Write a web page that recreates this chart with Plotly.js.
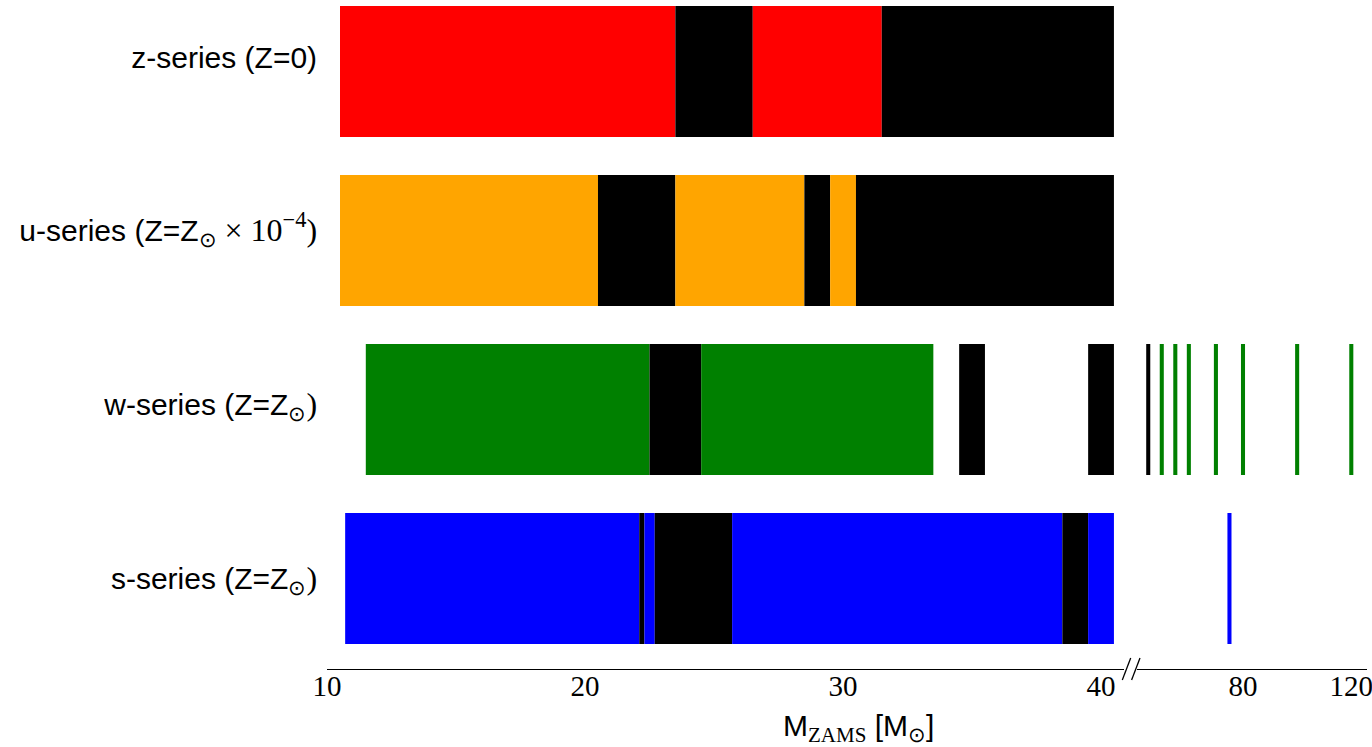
<!DOCTYPE html>
<html>
<head>
<meta charset="utf-8">
<script src="https://cdn.plot.ly/plotly-3.0.1.min.js"></script>
<style>
  html, body { margin: 0; padding: 0; background: #ffffff; }
  #chart { width: 1372px; height: 747px; }
</style>
</head>
<body>
<div id="chart"></div>
<script>
// Row labels, top to bottom (z, u, w, s)
const SERIF = 'font-family:Liberation Serif';
const SERIF_BIG = 'font-family:Liberation Serif;font-size:32px';
const seriesLabels = [
  'z-series (Z=0)',
  'u-series (Z=Z<sub><span style="' + SERIF + '">⊙</span></sub><span style="' + SERIF_BIG + '"> × 10<sup>−4</sup>)</span>',
  'w-series (Z=Z<sub><span style="' + SERIF + '">⊙</span></sub><span style="' + SERIF_BIG + '">)</span>',
  's-series (Z=Z<sub><span style="' + SERIF + '">⊙</span></sub><span style="' + SERIF_BIG + '">)</span>'
];
const seriesRows = [3, 2, 1, 0];
const seriesColors = ['#ff0000', '#ffa500', '#008000', '#0000ff'];
const failColor = '#000000';

// Runs of consecutive models with the same outcome (ZAMS mass, Msun); 1 = explosion, 0 = black hole
const zStart = [10.5, 23.5, 26.5, 31.5];
const zEnd   = [23.5, 26.5, 31.5, 40.5];
const zExpl  = [1, 0, 1, 0];

const uStart = [10.5, 20.5, 23.5, 28.5, 29.5, 30.5];
const uEnd   = [20.5, 23.5, 28.5, 29.5, 30.5, 40.5];
const uExpl  = [1, 0, 1, 0, 1, 0];

const wStart = [11.5, 22.5, 24.5, 34.5, 39.5];
const wEnd   = [22.5, 24.5, 33.5, 35.5, 40.5];
const wExpl  = [1, 0, 1, 0, 0];

const sStart = [10.7, 22.1, 22.3, 22.7, 25.7, 38.5, 39.5];
const sEnd   = [22.1, 22.3, 22.7, 25.7, 38.5, 39.5, 40.5];
const sExpl  = [1, 0, 1, 0, 1, 0, 1];

// Single high-mass models beyond the axis break
const zHighMass = [];
const zHighExpl = [];
const uHighMass = [];
const uHighExpl = [];
const wHighMass = [45, 50, 55, 60, 70, 80, 100, 120];
const wHighExpl = [0, 1, 1, 1, 1, 1, 1, 1];
const sHighMass = [75];
const sHighExpl = [1];

// Axis ticks
const lowTicks = [10, 20, 30, 40];
const highTicks = [80, 120];

const runs = [
  { start: zStart, end: zEnd, expl: zExpl, hi: zHighMass, hiExpl: zHighExpl },
  { start: uStart, end: uEnd, expl: uExpl, hi: uHighMass, hiExpl: uHighExpl },
  { start: wStart, end: wEnd, expl: wExpl, hi: wHighMass, hiExpl: wHighExpl },
  { start: sStart, end: sEnd, expl: sExpl, hi: sHighMass, hiExpl: sHighExpl }
];

const BAR_H = 0.775;     // bar thickness in row units
const HI_W = 1.5;        // drawn width of an isolated high-mass model
// labels sit slightly above their bars, more so towards the top
const LABEL_LIFT = [0.08, 0.06, 0.03, 0.0];

const traces = [];
runs.forEach((r, i) => {
  const row = seriesRows[i];
  const col = seriesColors[i];
  traces.push({
    type: 'bar', orientation: 'h',
    y: r.start.map(() => row),
    base: r.start,
    x: r.start.map((s, k) => r.end[k] - s),
    width: BAR_H,
    marker: { color: r.expl.map(e => e ? col : failColor), line: { width: 0 } },
    xaxis: 'x', yaxis: 'y',
    hoverinfo: 'skip', showlegend: false
  });
  if (r.hi.length) {
    traces.push({
      type: 'bar', orientation: 'h',
      y: r.hi.map(() => row),
      base: r.hi.map(m => m - HI_W / 2),
      x: r.hi.map(() => HI_W),
      width: BAR_H,
      marker: { color: r.hiExpl.map(e => e ? col : failColor), line: { width: 0 } },
      xaxis: 'x2', yaxis: 'y',
      hoverinfo: 'skip', showlegend: false
    });
  }
});

const W = 1372;
const tickFont = { family: 'Liberation Serif', size: 29, color: '#000' };
const breakLine = { color: '#000', width: 1.3 };

const layout = {
  width: 1372, height: 747,
  margin: { l: 0, r: 0, t: 0, b: 78, pad: 0 },
  paper_bgcolor: '#fff', plot_bgcolor: '#fff',
  barmode: 'overlay',
  showlegend: false,
  xaxis: {
    domain: [327.1 / W, 1124 / W],
    range: [10, 40.89],
    tickvals: lowTicks, ticktext: lowTicks.map(String),
    ticks: '', ticklen: 0, showgrid: false, zeroline: false,
    showline: true, linecolor: '#000', linewidth: 1.3,
    tickfont: tickFont, anchor: 'y', ticklabelstandoff: -9,
    ticklabeloverflow: 'allow'
  },
  xaxis2: {
    domain: [1137 / W, 1367 / W],
    range: [40.85, 125.8],
    tickvals: highTicks, ticktext: highTicks.map(String),
    ticks: '', ticklen: 0, showgrid: false, zeroline: false,
    showline: true, linecolor: '#000', linewidth: 1.3,
    tickfont: tickFont, anchor: 'y', ticklabelstandoff: -9,
    ticklabeloverflow: 'allow'
  },
  yaxis: {
    range: [-0.5355, 3.423],
    tickvals: seriesRows.map((r, i) => r + LABEL_LIFT[i]), ticktext: seriesLabels,
    ticks: '', ticklen: 0, showgrid: false, zeroline: false, showline: false,
    tickfont: { family: 'Liberation Sans', size: 30, color: '#000' },
    anchor: 'x', automargin: false, ticklabelstandoff: 9
  },
  annotations: [{
    xref: 'paper', yref: 'paper',
    x: 858 / W, y: -0.0882, xanchor: 'center', yanchor: 'middle',
    showarrow: false,
    text: 'M<sub><span style="' + SERIF + '">ZAMS</span></sub> [M<sub><span style="' + SERIF + '">⊙</span></sub>]',
    font: { family: 'Liberation Sans', size: 30, color: '#000' }
  }],
  shapes: [
    { type: 'line', xref: 'paper', yref: 'paper', x0: 1122.3 / W, x1: 1130.7 / W, y0: -0.0164, y1: 0.0164, line: breakLine },
    { type: 'line', xref: 'paper', yref: 'paper', x0: 1131.6 / W, x1: 1140 / W, y0: -0.0164, y1: 0.0164, line: breakLine }
  ]
};

Plotly.newPlot('chart', traces, layout, { staticPlot: true, displayModeBar: false });
</script>
</body>
</html>
